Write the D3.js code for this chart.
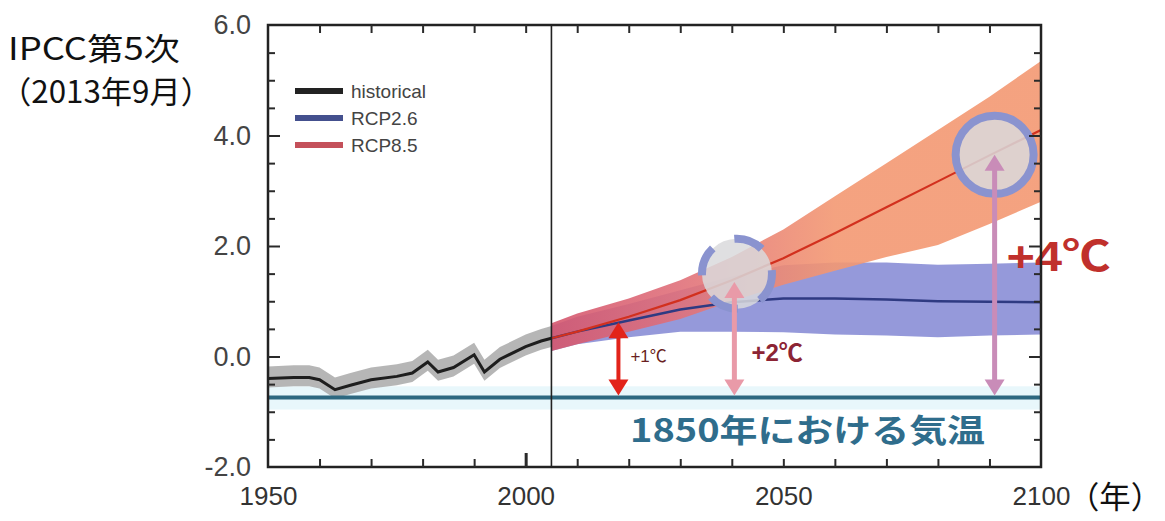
<!DOCTYPE html>
<html>
<head>
<meta charset="utf-8">
<script src="https://cdn.jsdelivr.net/npm/d3@7"></script>
<style>
  body { margin: 0; background: #fff; }
  svg { display: block; }
</style>
</head>
<body>
<div id="chart"></div>
<script>
// historical
var histYears = [1950, 1955, 1958, 1960, 1963, 1966, 1970, 1975, 1978, 1981, 1983, 1986, 1990, 1992, 1995, 2000, 2003, 2005];
var histVals  = [-0.40, -0.38, -0.38, -0.42, -0.60, -0.52, -0.42, -0.36, -0.30, -0.10, -0.28, -0.20, 0.03, -0.28, -0.05, 0.18, 0.28, 0.33];

// projections
var projYears = [2005, 2010, 2020, 2030, 2040, 2050, 2060, 2070, 2080, 2090, 2100];
var rcp85Mean = [0.33, 0.45, 0.72, 1.02, 1.38, 1.78, 2.23, 2.70, 3.17, 3.64, 4.10];
var rcp85Top  = [0.60, 0.78, 1.05, 1.38, 1.80, 2.30, 2.90, 3.50, 4.10, 4.70, 5.35];
var rcp85Bot  = [0.10, 0.22, 0.45, 0.68, 1.00, 1.30, 1.55, 1.80, 2.02, 2.40, 2.80];
var rcp26Mean = [0.33, 0.45, 0.65, 0.85, 0.98, 1.05, 1.05, 1.03, 1.00, 0.99, 0.98];
var rcp26Top  = [0.55, 0.72, 0.95, 1.20, 1.45, 1.65, 1.70, 1.70, 1.66, 1.68, 1.70];
var rcp26Bot  = [0.10, 0.22, 0.35, 0.45, 0.45, 0.44, 0.40, 0.38, 0.35, 0.38, 0.40];

var baseline1850 = -0.74;

var xLabels = [1950, 2000, 2050, 2100];
var yLabels = [-2, 0, 2, 4, 6];

var legendNames = ["historical", "RCP2.6", "RCP8.5"];
var legendColors = ["#222222", "#44508e", "#c4505a"];

// circles and arrows (year, value)
var circleYears = [2041, 2091];
var circleVals  = [1.50, 3.65];
var arrowYears = [2018, 2040.5, 2091];
var arrowTops  = [0.62, 1.35, 3.65];
var arrowLabels = ["+1℃", "+2℃", "+4℃"];

var width = 1165, height = 521;

var svg = d3.select("#chart")
            .append("svg")
            .attr("width", width)
            .attr("height", height);

var x = d3.scaleLinear().domain([1950, 2100]).range([268, 1041]),
    y = d3.scaleLinear().domain([-2, 6]).range([467, 25]);

var defs = svg.append("defs");
var grad = defs.append("linearGradient")
               .attr("id", "rcp85grad")
               .attr("gradientUnits", "userSpaceOnUse")
               .attr("x1", x(2005)).attr("x2", x(2060))
               .attr("y1", 0).attr("y2", 0);
grad.append("stop").attr("offset", "0%").attr("stop-color", "#d4566e");
grad.append("stop").attr("offset", "45%").attr("stop-color", "#e0707a");
grad.append("stop").attr("offset", "100%").attr("stop-color", "#f39872");

var clip = defs.append("clipPath").attr("id", "plotclip");
clip.append("rect")
    .attr("x", x(1950)).attr("y", y(6))
    .attr("width", x(2100) - x(1950))
    .attr("height", y(-2) - y(6));

var plot = svg.append("g").attr("clip-path", "url(#plotclip)");

// pale band around the 1850 level
plot.append("rect")
    .attr("x", x(1950))
    .attr("width", x(2100) - x(1950))
    .attr("y", y(baseline1850 + 0.2))
    .attr("height", y(baseline1850 - 0.22) - y(baseline1850 + 0.2))
    .attr("fill", "#e8f7fb");

var hist = histYears.map((d, i) => ({yr: d, v: histVals[i]}));
var proj = projYears.map((d, i) => ({
  yr: d, m85: rcp85Mean[i], t85: rcp85Top[i], b85: rcp85Bot[i],
  m26: rcp26Mean[i], t26: rcp26Top[i], b26: rcp26Bot[i]
}));

// historical band
plot.append("path")
    .datum(hist)
    .attr("fill", "#a9a9a9")
    .attr("opacity", 0.85)
    .attr("d", d3.area().x(d => x(d.yr)).y0(d => y(d.v - 0.16)).y1(d => y(d.v + 0.22)));

// RCP2.6 band
plot.append("path")
    .datum(proj)
    .attr("fill", "#8a8ed6")
    .attr("opacity", 0.9)
    .attr("d", d3.area().x(d => x(d.yr)).y0(d => y(d.b26)).y1(d => y(d.t26)));

// RCP8.5 band
plot.append("path")
    .datum(proj)
    .attr("fill", "url(#rcp85grad)")
    .attr("opacity", 0.9)
    .attr("d", d3.area().x(d => x(d.yr)).y0(d => y(d.b85)).y1(d => y(d.t85)));

// 1850 line
plot.append("line")
    .attr("x1", x(1950)).attr("x2", x(2100))
    .attr("y1", y(baseline1850)).attr("y2", y(baseline1850))
    .attr("stroke", "#2d6880")
    .attr("stroke-width", 4);

// mean lines
plot.append("path")
    .datum(proj)
    .attr("fill", "none")
    .attr("stroke", "#2f3a82")
    .attr("stroke-width", 2.5)
    .attr("d", d3.line().x(d => x(d.yr)).y(d => y(d.m26)));

plot.append("path")
    .datum(proj)
    .attr("fill", "none")
    .attr("stroke", "#d2301e")
    .attr("stroke-width", 2.2)
    .attr("d", d3.line().x(d => x(d.yr)).y(d => y(d.m85)));

plot.append("path")
    .datum(hist)
    .attr("fill", "none")
    .attr("stroke", "#1e1e1e")
    .attr("stroke-width", 3)
    .attr("d", d3.line().x(d => x(d.yr)).y(d => y(d.v)));

// 2005 divider
svg.append("line")
   .attr("x1", x(2005)).attr("x2", x(2005))
   .attr("y1", y(6)).attr("y2", y(-2))
   .attr("stroke", "#222")
   .attr("stroke-width", 1.6);

// circles
svg.selectAll(".hl")
   .data(circleYears)
   .enter()
   .append("circle")
   .attr("class", "hl")
   .attr("cx", d => x(d))
   .attr("cy", (d, i) => y(circleVals[i]))
   .attr("r", (d, i) => i === 0 ? 35 : 39)
   .attr("fill", "#d9d9dc")
   .attr("fill-opacity", 0.85)
   .attr("stroke", "#8a93cf")
   .attr("stroke-width", 8)
   .attr("stroke-dasharray", (d, i) => i === 0 ? "30 24" : null);

// arrows
var arrowColors = ["#e2231a", "#e99aa8", "#c98cb8"];
var arrowWidths = [4, 5, 5];

arrowYears.forEach((yr, i) => {
  var ax = x(yr), top = y(arrowTops[i]), bot = y(baseline1850) - 2, hw = 10, hh = 16;
  svg.append("line")
     .attr("x1", ax).attr("x2", ax)
     .attr("y1", top + hh - 2).attr("y2", bot - hh + 2)
     .attr("stroke", arrowColors[i])
     .attr("stroke-width", arrowWidths[i]);
  svg.append("path")
     .attr("d", `M${ax},${top} L${ax - hw},${top + hh} L${ax + hw},${top + hh} Z`)
     .attr("fill", arrowColors[i]);
  svg.append("path")
     .attr("d", `M${ax},${bot} L${ax - hw},${bot - hh} L${ax + hw},${bot - hh} Z`)
     .attr("fill", arrowColors[i]);
});

// arrow labels
var sansJp = "'Liberation Sans', 'Noto Sans CJK JP', sans-serif";
svg.append("text")
   .attr("x", x(2018) + 12).attr("y", y(-0.1))
   .style("font-family", sansJp)
   .style("font-size", "17px")
   .style("fill", "#6a1f22")
   .text(arrowLabels[0]);

svg.append("text")
   .attr("x", x(2040.5) + 17).attr("y", y(-0.08))
   .style("font-family", sansJp)
   .style("font-size", "24px")
   .style("font-weight", "bold")
   .style("fill", "#8c2434")
   .text(arrowLabels[1]);

svg.append("text")
   .attr("x", x(2091) + 12).attr("y", y(1.55))
   .attr("textLength", 104)
   .attr("lengthAdjust", "spacingAndGlyphs")
   .style("font-family", sansJp)
   .style("font-size", "42px")
   .style("font-weight", "bold")
   .style("fill", "#c0302c")
   .text(arrowLabels[2]);

svg.append("text")
   .attr("x", 630).attr("y", y(-1.55))
   .attr("textLength", 355)
   .attr("lengthAdjust", "spacingAndGlyphs")
   .style("font-family", "'Noto Sans CJK JP', sans-serif")
   .style("font-size", "32px")
   .style("font-weight", "bold")
   .style("fill", "#2f6d8c")
   .text("1850年における気温");

// frame
svg.append("rect")
   .attr("x", x(1950)).attr("y", y(6))
   .attr("width", x(2100) - x(1950))
   .attr("height", y(-2) - y(6))
   .attr("fill", "none")
   .attr("stroke", "#222")
   .attr("stroke-width", 2.5);

// ticks, pointing inward, drawn through d3 axes
var minorX = d3.range(1960, 2100, 10),
    minorY = d3.range(-1.5, 6, 0.5);

function styleTicks(g) {
  g.select(".domain").remove();
  g.selectAll(".tick line").attr("stroke", "#2a2a2a").attr("stroke-width", 2);
  g.selectAll(".tick text").remove();
}

var gb = svg.append("g").attr("transform", `translate(0,${y(-2)})`)
            .call(d3.axisTop(x).tickValues(minorX).tickSize(8)).call(styleTicks);
gb.selectAll(".tick line").filter(d => d === 2000).attr("y2", -14).attr("stroke-width", 3);

svg.append("g").attr("transform", `translate(0,${y(6)})`)
   .call(d3.axisBottom(x).tickValues(minorX).tickSize(8)).call(styleTicks);

var gl = svg.append("g").attr("transform", `translate(${x(1950)},0)`)
            .call(d3.axisRight(y).tickValues(minorY).tickSize(7)).call(styleTicks);
gl.selectAll(".tick line").filter(d => d % 2 === 0).attr("x2", 12);

var gr = svg.append("g").attr("transform", `translate(${x(2100)},0)`)
            .call(d3.axisLeft(y).tickValues(minorY).tickSize(7)).call(styleTicks);
gr.selectAll(".tick line").filter(d => d % 2 === 0).attr("x2", -12);

// axis labels
var xAxis = d3.axisBottom(x).tickValues(xLabels).tickSize(0).tickPadding(20).tickFormat(d3.format("d"));
var gx = svg.append("g").attr("transform", `translate(0,${y(-2)})`).call(xAxis);
gx.select(".domain").remove();
gx.selectAll("text")
  .style("font-family", "'Liberation Sans', Arial, sans-serif")
  .style("font-size", "26px")
  .style("fill", "#333");

var yAxis = d3.axisLeft(y).tickValues(yLabels).tickSize(0).tickPadding(17).tickFormat(d3.format(".1f"));
var gy = svg.append("g").attr("transform", `translate(${x(1950)},0)`).call(yAxis);
gy.select(".domain").remove();
gy.selectAll("text")
  .text(d => d3.format(".1f")(d).replace("−", "-"))
  .style("font-family", "'Liberation Sans', Arial, sans-serif")
  .style("font-size", "27px")
  .style("fill", "#444");

// legend
var leg = svg.selectAll(".leg")
             .data(legendNames)
             .enter()
             .append("g")
             .attr("class", "leg")
             .attr("transform", (d, i) => `translate(295,${91 + i * 27})`);
leg.append("line")
   .attr("x1", 0).attr("x2", 48)
   .attr("stroke", (d, i) => legendColors[i])
   .attr("stroke-width", 6);
leg.append("text")
   .attr("x", 56).attr("dy", "0.35em")
   .style("font-family", "'Liberation Sans', Arial, sans-serif")
   .style("font-size", "19px")
   .style("fill", "#444")
   .text(d => d);

// side titles
var jp = "'Noto Sans CJK JP', sans-serif";
svg.append("text")
   .attr("x", 8).attr("y", 60)
   .attr("textLength", 172)
   .attr("lengthAdjust", "spacingAndGlyphs")
   .style("font-family", jp).style("font-size", "31px").style("fill", "#111")
   .text("IPCC第5次");
svg.append("text")
   .attr("x", 0).attr("y", 103)
   .attr("textLength", 212)
   .attr("lengthAdjust", "spacingAndGlyphs")
   .style("font-family", jp).style("font-size", "31px").style("fill", "#111")
   .text("（2013年9月）");
svg.append("text")
   .attr("x", 1068).attr("y", 508)
   .attr("textLength", 94)
   .attr("lengthAdjust", "spacingAndGlyphs")
   .style("font-family", jp).style("font-size", "31px").style("fill", "#111")
   .text("（年）");
</script>
</body>
</html>
